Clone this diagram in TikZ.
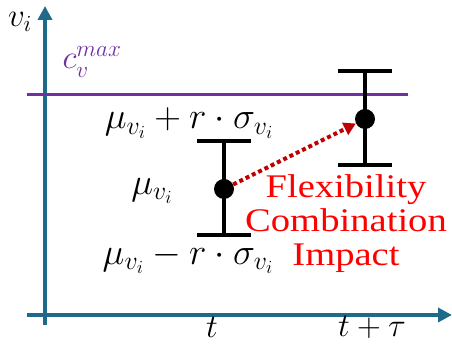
\documentclass[tikz,border=0pt]{standalone}
\usepackage{fix-cm}
\usepackage{graphicx}
\usepackage{fontspec}
\setmainfont{Liberation Serif}
\usepackage{tikz}
\usetikzlibrary{positioning,arrows.meta}
\definecolor{axisblue}{HTML}{1F6A8A}
\definecolor{capviolet}{HTML}{7030A0}
\definecolor{impactred}{HTML}{C00000}

\begin{document}
\begin{tikzpicture}[
    x=1pt, y=1pt,
    font=\fontsize{33}{37}\selectfont,
    axis/.style={line width=4pt, draw=axisblue, -{Triangle[length=14pt, width=14pt]}},
    errbar/.style={line width=3.5pt, draw=black},
    meanpt/.style={circle, fill=black, inner sep=0pt, minimum size=20pt},
    impact/.style={line width=4pt, draw=impactred, dash pattern=on 4pt off 3pt, -{Triangle[length=12pt, width=13pt]}},
    lbl/.style={inner sep=0pt},
    mulbl/.style={inner sep=0pt, font=\fontsize{37}{40}\selectfont}
]
    \useasboundingbox (0,0) rectangle (452,344);
    % axes
    \coordinate (ybot) at (45,19);
    \coordinate (ytop) at (45,338);
    \coordinate (xleft) at (27,29);
    \coordinate (xright) at (452,29);
    \draw[axis] (ybot) -- (ytop);
    \draw[axis] (xleft) -- (xright);
    \node[lbl] (vlab) at (20,322) {$v_i$};
    \node[lbl] (tlab) at (212,17) {$t$};
    \node[lbl] (ttlab) at (372,17) {$t+\tau$};

    % capacity line
    \coordinate (capl) at (27,249);
    \coordinate (capr) at (408,249);
    \draw[line width=3pt, draw=capviolet] (capl) -- (capr);
    \node[lbl, text=capviolet] (caplab) at (92,282) {$c_v^{max}$};

    % error bars
    \foreach \name/\xx/\ytop/\ymid/\ybot in {a/224/203/155/109, b/365/273/225/179} {
        \coordinate (\name top) at (\xx,\ytop);
        \coordinate (\name bot) at (\xx,\ybot);
        \draw[errbar] (\name top) -- (\name bot);
        \draw[errbar] ([xshift=-27pt]\name top) -- ([xshift=27pt]\name top);
        \draw[errbar] ([xshift=-27pt]\name bot) -- ([xshift=27pt]\name bot);
        \node[meanpt] (dot\name) at (\xx,\ymid) {};
    }

    \node[mulbl] (uplab) at (189,221) {$\mu_{v_i}+r\cdot\sigma_{v_i}$};
    \node[mulbl] (mulab) at (152,153) {$\mu_{v_i}$};
    \node[mulbl] (lowlab) at (188,86) {$\mu_{v_i}-r\cdot\sigma_{v_i}$};

    % impact arrow
    \draw[impact] (dota) -- (dotb);
    \node[lbl, text=red, font=\fontsize{33}{34}\selectfont] (implab) at (346,119)
        {\scalebox{1.17}[1]{\begin{tabular}{@{}c@{}}Flexibility\\Combination\\Impact\end{tabular}}};
\end{tikzpicture}
\end{document}
